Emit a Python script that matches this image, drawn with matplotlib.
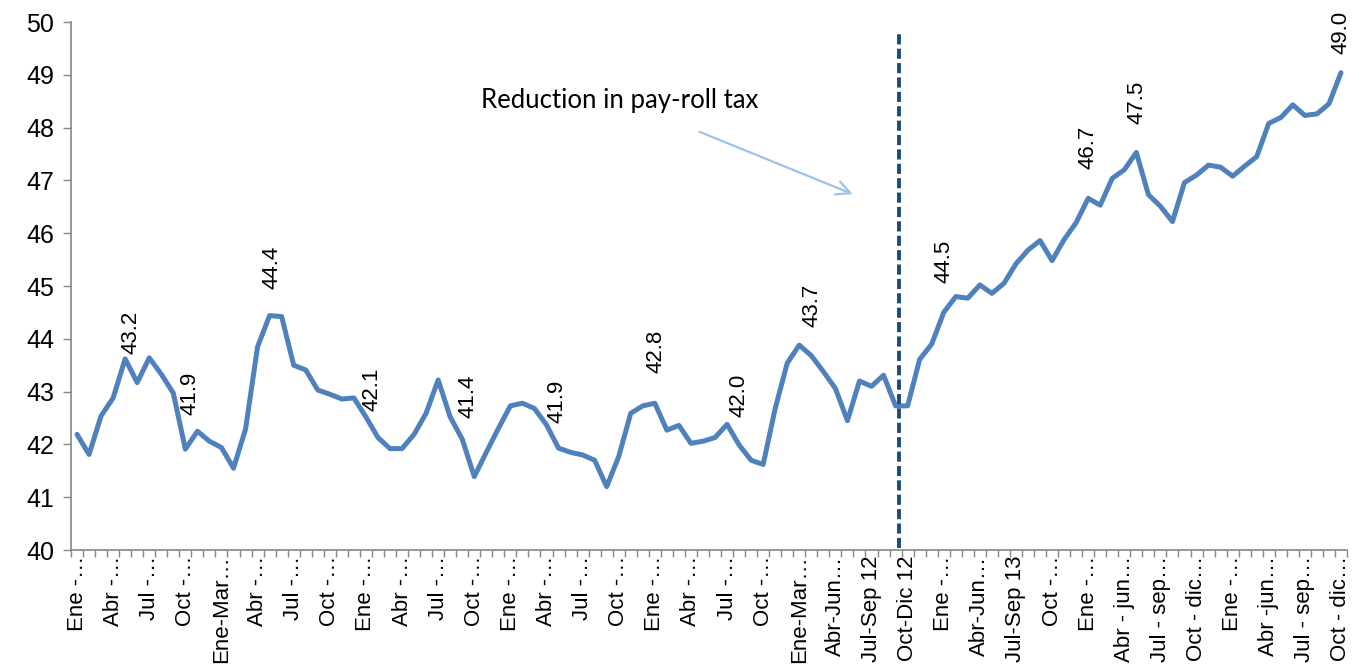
import numpy as np
import matplotlib
matplotlib.use('Agg')
import matplotlib.pyplot as plt
from matplotlib import font_manager

# rolling-quarter values, one per month
values = [42.19, 41.81, 42.54, 42.88, 43.62, 43.17, 43.64, 43.33, 42.97, 41.91,
          42.25, 42.06, 41.94, 41.55, 42.29, 43.85, 44.44, 44.42, 43.50, 43.41,
          43.03, 42.95, 42.86, 42.88, 42.52, 42.13, 41.92, 41.92, 42.19, 42.59,
          43.22, 42.52, 42.10, 41.39, 41.85, 42.30, 42.73, 42.78, 42.68, 42.37,
          41.93, 41.85, 41.80, 41.70, 41.20, 41.77, 42.59, 42.73, 42.78, 42.27,
          42.36, 42.02, 42.06, 42.13, 42.38, 41.99, 41.70, 41.62, 42.68, 43.54,
          43.88, 43.68, 43.38, 43.06, 42.45, 43.20, 43.10, 43.31, 42.73, 42.73,
          43.61, 43.90, 44.50, 44.80, 44.77, 45.02, 44.86, 45.05, 45.42, 45.68,
          45.86, 45.48, 45.88, 46.20, 46.66, 46.53, 47.04, 47.20, 47.53, 46.73,
          46.51, 46.22, 46.96, 47.10, 47.29, 47.25, 47.08, 47.27, 47.45, 48.08,
          48.19, 48.43, 48.23, 48.26, 48.45, 49.04]

tick_labels = ['Ene -…', 'Abr -…', 'Jul -…', 'Oct -…', 'Ene-Mar…', 'Abr -…',
               'Jul -…', 'Oct -…', 'Ene -…', 'Abr -…', 'Jul -…', 'Oct -…',
               'Ene -…', 'Abr -…', 'Jul -…', 'Oct -…', 'Ene -…', 'Abr -…',
               'Jul -…', 'Oct -…', 'Ene-Mar…', 'Abr-Jun…', 'Jul-Sep 12', 'Oct-Dic 12',
               'Ene -…', 'Abr-Jun…', 'Jul-Sep 13', 'Oct -…', 'Ene -…', 'Abr - jun…',
               'Jul - sep…', 'Oct - dic…', 'Ene -…', 'Abr -jun…', 'Jul - sep…', 'Oct - dic…']

labelled = [5, 9, 16, 25, 33, 40, 48, 55, 61, 72, 84, 88, 105]
# label offsets in pixels (dx, dy) from the point
label_off = [(-6, 29), (5, 34), (2, 27), (-6, 27), (-6, 59), (-2, 25), (1, 30),
             (0, 28), (1, 29), (0, 29), (0, 29), (1, 28), (0, 19)]

names = {f.name for f in font_manager.fontManager.ttflist}
narrow = 'Liberation Sans Narrow' if 'Liberation Sans Narrow' in names else 'Liberation Sans'

plt.rcParams['font.family'] = ['Liberation Sans', 'DejaVu Sans']

fig = plt.figure(figsize=(13.69, 6.72), dpi=100)
ax = fig.add_axes([71/1369, 122/672, (1347-71)/1369, (550-22)/672])

x = np.arange(len(values))
ax.plot(x, values, color='#4F81BD', lw=3.6, solid_joinstyle='round', solid_capstyle='round', zorder=3)

for i, (dx, dy) in zip(labelled, label_off):
    ax.annotate(f'{values[i]:.1f}', xy=(i, values[i]), xytext=(dx, dy),
                textcoords='offset pixels', rotation=90, ha='center', va='bottom',
                fontsize=16, color='black')

# payroll tax cut marker
ax.vlines(68.3, 40.04, 49.8, colors='#1F497D', lw=2.8, linestyles=(0, (2.6, 1.1)), zorder=4)
ax.annotate('', xy=(64.65, 46.72), xytext=(51.5, 47.94),
            arrowprops=dict(arrowstyle='->,head_length=1.0,head_width=0.5', color='#9DC3E6', lw=1.6))
ax.text(33.56, 48.52, 'Reduction in pay-roll tax', family=['Lato', 'DejaVu Sans'],
        fontsize=18.5, ha='left', va='center')

ax.set_xlim(-0.5, len(values) - 0.5)
ax.set_ylim(40, 50)
ax.set_yticks(range(40, 51))
ax.set_yticklabels([str(v) for v in range(40, 51)], family=[narrow, 'DejaVu Sans'], fontsize=18)

ax.set_xticks(x[::3])
ax.set_xticklabels(tick_labels, rotation=90, fontsize=16)
ax.set_xticks(np.arange(-0.5, len(values)), minor=True)
ax.tick_params(axis='x', which='major', length=0, pad=4)
ax.tick_params(axis='x', which='minor', length=5, color='#868686', width=1)
ax.tick_params(axis='y', length=6, color='#868686', width=1, pad=6)

for s in ['top', 'right']:
    ax.spines[s].set_visible(False)
for s in ['left', 'bottom']:
    ax.spines[s].set_color('#868686')
    ax.spines[s].set_linewidth(1.2)

fig.savefig('out.png', dpi=100)
